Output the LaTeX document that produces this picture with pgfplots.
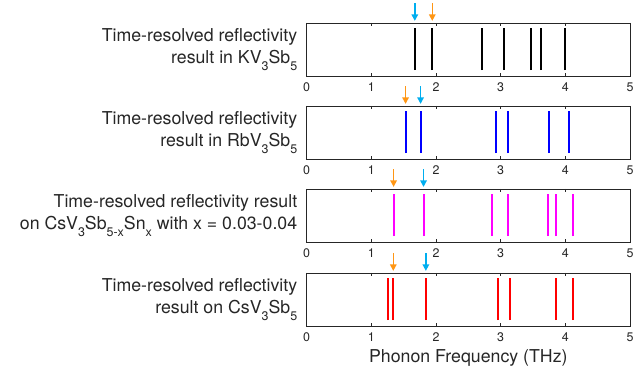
\documentclass[border=0pt]{standalone}
\usepackage{pgfplots}
\pgfplotsset{compat=1.18}
\usepackage{fontspec}
\setmainfont{TeX Gyre Heros}
\usetikzlibrary{arrows.meta}
\definecolor{axgray}{RGB}{38,38,38}
\definecolor{arrowblue}{RGB}{0,174,239}
\definecolor{arroworange}{RGB}{255,150,20}
\definecolor{pblack}{RGB}{0,0,0}
\definecolor{pblue}{RGB}{0,0,255}
\definecolor{pmag}{RGB}{255,0,255}
\definecolor{pred}{RGB}{255,0,0}
\newcommand{\sub}[1]{\raisebox{-7.5bp}{\fontsize{12.5}{12.5}\selectfont #1}}
\pgfplotsset{
  panel/.style={
    anchor=south west, scale only axis, width=323.3bp, height=53bp,
    xmin=0, xmax=5, ymin=0, ymax=1, ytick=\empty,
    xtick={0,1,2,3,4,5}, xtick pos=both, xticklabel pos=lower,
    tick align=inside, major tick length=3.3bp,
    axis line style={axgray, line width=0.8bp},
    tick style={axgray, line width=0.8bp},
    /pgf/number format/assume math mode=true,
    ticklabel style={font=\fontsize{12.5}{14}\selectfont, text=axgray},
    xticklabel style={yshift=-3bp},
    clip=false,
  },
  arr/.style={line width=1.4bp, -{Triangle[length=6.5bp,width=6.5bp]}},
}
\newcommand{\plabel}[1]{\node[anchor=east, align=right, text=axgray, font=\fontsize{17.8}{22.3}\selectfont] at (axis description cs:0,0.5) [xshift=-6bp] {#1};}
\begin{document}
\begin{tikzpicture}
\path[use as bounding box] (0,0) rectangle (633bp,376bp);
% Panel 1: KV3Sb5
\begin{axis}[panel, at={(306.7bp,300bp)}]
\foreach \x in {1.672,1.942,2.711,3.045,3.465,3.630,3.995}{
  \edef\tmp{\noexpand\addplot[pblack, line width=2bp] coordinates {(\x,0.11)(\x,0.90)};}\tmp
}
\addplot[arr, arrowblue] coordinates {(1.672,1.37)(1.672,1.04)};
\addplot[arr, arroworange] coordinates {(1.942,1.37)(1.942,1.04)};
\plabel{Time-resolved reflectivity\\result in KV\sub{3}Sb\sub{5}}
\end{axis}
% Panel 2: RbV3Sb5
\begin{axis}[panel, at={(306.7bp,217bp)}]
\foreach \x in {1.529,1.761,2.922,3.117,3.749,4.063}{
  \edef\tmp{\noexpand\addplot[pblue, line width=2bp] coordinates {(\x,0.11)(\x,0.90)};}\tmp
}
\addplot[arr, arroworange] coordinates {(1.529,1.37)(1.529,1.04)};
\addplot[arr, arrowblue] coordinates {(1.761,1.37)(1.761,1.04)};
\plabel{Time-resolved reflectivity\\result in RbV\sub{3}Sb\sub{5}}
\end{axis}
% Panel 3: CsV3Sb5-xSnx
\begin{axis}[panel, at={(306.7bp,134bp)}]
\foreach \x in {1.344,1.807,2.865,3.107,3.729,3.852,4.114}{
  \edef\tmp{\noexpand\addplot[pmag, line width=2bp] coordinates {(\x,0.11)(\x,0.90)};}\tmp
}
\addplot[arr, arroworange] coordinates {(1.344,1.37)(1.344,1.04)};
\addplot[arr, arrowblue] coordinates {(1.807,1.37)(1.807,1.04)};
\plabel{Time-resolved reflectivity result\\on CsV\sub{3}Sb\sub{5-x}Sn\sub{x} with x = 0.03-0.04}
\end{axis}
% Panel 4: CsV3Sb5
\begin{axis}[panel, at={(306.7bp,50bp)},
  xlabel={Phonon Frequency (THz)},
  xlabel style={font=\fontsize{17.8}{20}\selectfont, text=axgray, yshift=-1bp}]
\foreach \x in {1.262,1.339,1.843,2.963,3.138,3.857,4.114}{
  \edef\tmp{\noexpand\addplot[pred, line width=2bp] coordinates {(\x,0.11)(\x,0.90)};}\tmp
}
\addplot[arr, arroworange] coordinates {(1.339,1.37)(1.339,1.04)};
\addplot[arr, arrowblue] coordinates {(1.843,1.37)(1.843,1.04)};
\plabel{Time-resolved reflectivity\\result on CsV\sub{3}Sb\sub{5}}
\end{axis}
\end{tikzpicture}
\end{document}
